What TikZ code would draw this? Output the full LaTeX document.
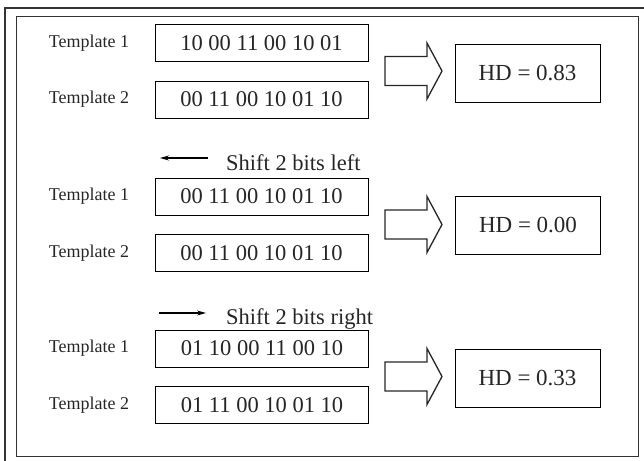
\documentclass[tikz,border=0pt]{standalone}
\usepackage{fontspec}
\setmainfont{Liberation Serif}
\usepackage{tikz}
\usetikzlibrary{arrows.meta}
\tikzset{
  bits/.style={draw,line width=0.8pt,minimum width=213pt,minimum height=37pt,inner sep=0pt,font=\fontsize{22.5}{24}\selectfont},
  tlabel/.style={inner sep=0pt,font=\fontsize{18}{20}\selectfont},
  hdbox/.style={draw,line width=0.8pt,minimum width=145pt,minimum height=58pt,inner sep=0pt,font=\fontsize{23}{25}\selectfont},
  shifttext/.style={anchor=base west,inner sep=0pt,font=\fontsize{22.5}{24}\selectfont}
}
\begin{document}
\begin{tikzpicture}[x=1pt,y=-1pt,text=black!85]
\useasboundingbox(0,0)rectangle(644,460);
% frames
\draw[line width=2pt,black!80](5,470)--(5,8)--(660,8);
\draw[line width=1pt,black!80](16,17)rectangle(638,456);
% first comparison
\node[tlabel](l11)at(89,43){Template 1};
\node[tlabel](l12)at(89,99.5){Template 2};
\node[bits](t11)at(261.5,43){10 00 11 00 10 01};
\node[bits](t12)at(261.5,99.5){00 11 00 10 01 10};
\node[hdbox](hd1)at(527.5,73){HD = 0.83};
% shift left
\coordinate(sl1)at(208,158);
\coordinate(sl0)at(160,158);
\draw[-{Stealth[length=9pt,width=5pt]},line width=1.1pt](sl1)--(sl0);
\node[shifttext](sl)at(226,170){Shift 2 bits left};
\node[tlabel](l21)at(89,196.5){Template 1};
\node[tlabel](l22)at(89,253){Template 2};
\node[bits](t21)at(261.5,196.5){00 11 00 10 01 10};
\node[bits](t22)at(261.5,253){00 11 00 10 01 10};
\node[hdbox,line width=1.6pt](hd2)at(528,225.5){HD = 0.00};
% shift right
\coordinate(sr0)at(159,313);
\coordinate(sr1)at(206,313);
\draw[-{Stealth[length=9pt,width=5pt]},line width=1.1pt](sr0)--(sr1);
\node[shifttext](sr)at(226,324){Shift 2 bits right};
\node[tlabel](l31)at(89,348.5){Template 1};
\node[tlabel](l32)at(89,405){Template 2};
\node[bits](t31)at(262,348.5){01 10 00 11 00 10};
\node[bits](t32)at(262,405){01 11 00 10 01 10};
\node[hdbox](hd3)at(527.5,378){HD = 0.33};
% block arrows
\foreach \y in {71,224.5,376.5}
  \draw[line width=1.3pt,black!85](385,\y-14.5)--(427,\y-14.5)--(427,\y-28)--(442,\y)
    --(427,\y+28)--(427,\y+14.5)--(385,\y+14.5)--cycle;
\end{tikzpicture}
\end{document}
